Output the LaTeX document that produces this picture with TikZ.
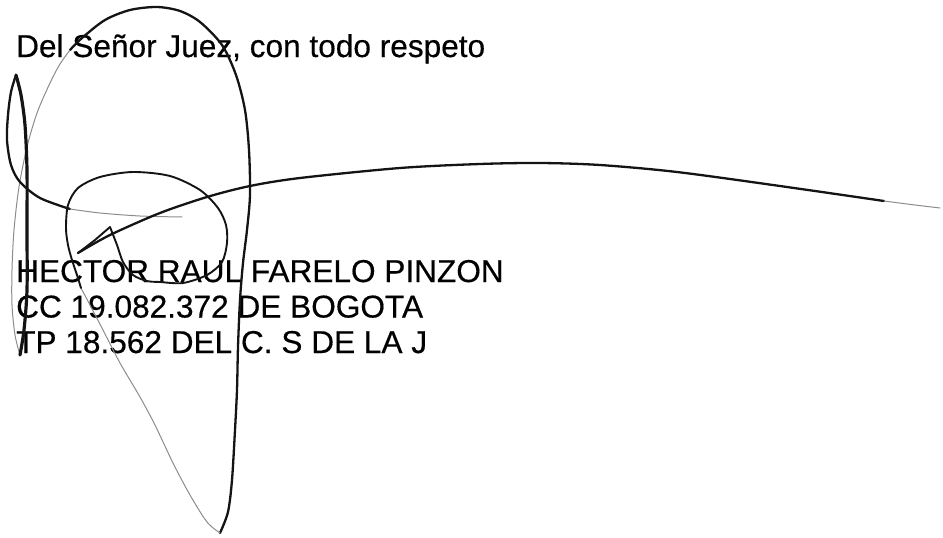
\documentclass[tikz,border=0pt]{standalone}
\usepackage{fontspec}
\setmainfont{Liberation Sans}[FakeBold = 0.4]
\usepackage{tikz}
\usetikzlibrary{positioning}

\begin{document}
\begin{tikzpicture}[x = 1pt, y = -1pt,
      every node/.style = { anchor = base west, inner sep = 0pt, font = \fontsize{31.6}{35}\selectfont },
      firma/.style = { line width = 2.3pt, line cap = round, line join = round, color = black!92 },
      trazo/.style = { line width = 1pt, line cap = round, color = black!45 }]
      \useasboundingbox (0,0) rectangle (943,538);
      \node (saludo) at (16,57) {Del Señor Juez, con todo respeto};
      \node (nombre) at (16,282) {HECTOR RAUL FARELO PINZON};
      \node (cedula) [below = 35.5pt of nombre.base west, anchor = base west] {CC 19.082.372 DE BOGOTA};
      \node (tarjeta) [below = 35.5pt of cedula.base west, anchor = base west] {TP 18.562 DEL C. S DE LA J};
      \draw [firma] plot [smooth] coordinates { (220,533) (228,512) (232,480) (235,430) (237,390) (238,347) (240,300) (243,263) (247,230) (250,195) (249,150) (245,110) (236,75) (222,45) (200,22) (180,11) (157,7) (130,10) (105,20) (82,38) (70,50) };
      \draw [trazo] plot [smooth] coordinates { (70,50) (60,64) (50,83) (37,113) (27,147) (19,187) (14,230) (12,270) (12,305) (15,335) (20,355) };
      \draw [firma, line width = 3.2pt] plot [smooth] coordinates { (20,355) (24,330) (27,290) (27,230) (27,170) (25,125) (21,95) (16,75) };
      \draw [firma] plot [smooth] coordinates { (16,75) (11,92) (8,115) (7,140) (11,165) (20,182) (40,198) (70,209) };
      \draw [trazo] plot [smooth] coordinates { (70,209) (100,213) (140,216) (182,217) };
      \draw [trazo] plot [smooth] coordinates { (220,533) (207,522) (190,495) (173,463) (155,425) (140,397) (120,363) (103,330) (90,305) (81,288) };
      \draw [firma, line width = 1.9pt] plot [smooth] coordinates { (81,288) (77,275) (72,260) (68,245) (66,228) (68,205) (78,188) (100,177) (133,172) (170,176) (200,190) (218,208) (226,225) (227,243) (222,262) (207,275) (183,283) (160,282) (147,281) (133,275) (123,262) (117,245) (110,227) };
      \draw [firma, line width = 1.9pt] (110,227) -- (95,240) -- (78,253);
      \draw [firma] plot [smooth] coordinates { (78,253) (110,235) (160,213) (207,197) (250,186) (300,178) (400,168) (480,164) (540,163) (600,165) (677,172) (780,186) (884,201) };
      \draw [trazo] plot [smooth] coordinates { (884,201) (915,205) (940,208) };
    \end{tikzpicture}
\end{document}
